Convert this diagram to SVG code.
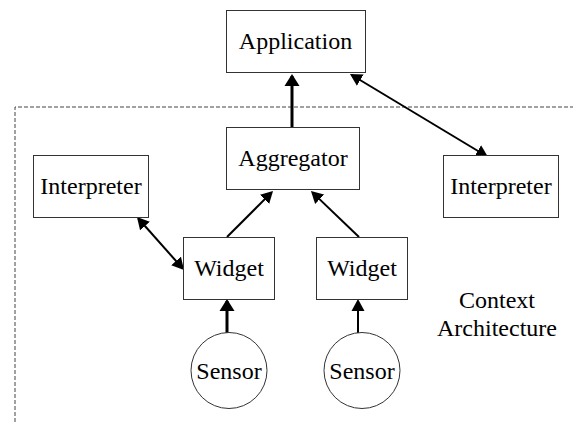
<svg xmlns="http://www.w3.org/2000/svg" width="573" height="422" viewBox="0 0 573 422">
<defs>
<marker id="ah" markerUnits="userSpaceOnUse" markerWidth="14" markerHeight="16" viewBox="0 0 14 16" refX="10" refY="8" orient="auto-start-reverse">
<path d="M0,0.5 L12,8 L0,15.5 z" fill="#000"/>
</marker>
<marker id="ahs" markerUnits="userSpaceOnUse" markerWidth="14" markerHeight="14" viewBox="0 0 14 14" refX="10" refY="7" orient="auto-start-reverse">
<path d="M0,0.5 L12,7 L0,13.5 z" fill="#000"/>
</marker>
</defs>
<path d="M15,422 L15,107 L573,107" fill="none" stroke="#444" stroke-width="1" stroke-dasharray="4,2"/>
<g id="connectors" fill="none" stroke="#000" stroke-width="2">
<line stroke-width="3" x1="292" y1="127" x2="292" y2="76" marker-end="url(#ah)"/>
<line x1="351.7" y1="75" x2="486.3" y2="156" marker-start="url(#ahs)" marker-end="url(#ahs)"/>
<line x1="227" y1="237" x2="271.6" y2="192.4" marker-end="url(#ahs)"/>
<line x1="359" y1="237" x2="312.4" y2="192.4" marker-end="url(#ahs)"/>
<line x1="138.3" y1="218.5" x2="182.7" y2="268.5" marker-start="url(#ahs)" marker-end="url(#ahs)"/>
<line stroke-width="3" x1="227" y1="333" x2="227" y2="301" marker-end="url(#ah)"/>
<line x1="358" y1="333" x2="358" y2="301" marker-end="url(#ahs)"/>
</g>
<g font-family="Liberation Serif" font-size="24" text-anchor="middle">
<g id="application"><rect fill="#fff" stroke="#333" x="226.5" y="10.5" width="139" height="62"/><text x="295.5" y="49">Application</text></g>
<g id="aggregator"><rect fill="#fff" stroke="#333" x="226.5" y="127.5" width="133" height="62"/><text x="293" y="166">Aggregator</text></g>
<g id="interpreter-left"><rect fill="#fff" stroke="#333" x="33.5" y="155.5" width="115" height="62"/><text x="91" y="194">Interpreter</text></g>
<g id="interpreter-right"><rect fill="#fff" stroke="#333" x="443.5" y="155.5" width="115" height="62"/><text x="501" y="194">Interpreter</text></g>
<g id="widget-left"><rect fill="#fff" stroke="#333" x="183.5" y="237.5" width="91" height="62"/><text x="229" y="276">Widget</text></g>
<g id="widget-right"><rect fill="#fff" stroke="#333" x="316.5" y="237.5" width="91" height="62"/><text x="362" y="276">Widget</text></g>
<g id="sensor-left"><circle fill="#fff" stroke="#333" cx="229" cy="370.5" r="38"/><text x="229" y="379">Sensor</text></g>
<g id="sensor-right"><circle fill="#fff" stroke="#333" cx="362" cy="370.5" r="38"/><text x="362" y="379">Sensor</text></g>
<g id="context-label"><text x="497" y="308">Context</text><text x="497" y="336">Architecture</text></g>
</g>
</svg>
